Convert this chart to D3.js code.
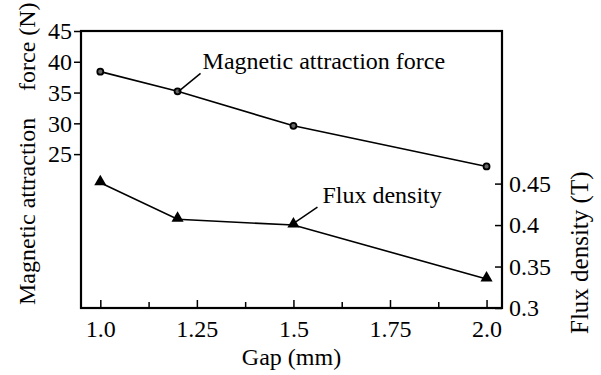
<!DOCTYPE html>
<html>
<head>
<meta charset="utf-8">
<script src="https://cdn.jsdelivr.net/npm/d3@7"></script>
<style>
  body { margin: 0; background: #fff; }
  text { font-family: "Liberation Serif", "Times New Roman", serif; fill: #000; }
</style>
</head>
<body>
<div id="chart"></div>
<script>
// Data
const gaps = [1.0, 1.2, 1.5, 2.0];
const forceValues = [38.4, 35.2, 29.6, 23.0];
const fluxValues = [0.451, 0.407, 0.400, 0.335];
const xTicks = [1.0, 1.25, 1.5, 1.75, 2.0];
const xTickLabels = ["1.0", "1.25", "1.5", "1.75", "2.0"];
const xMinorTicks = [1.125, 1.375, 1.625, 1.875];
const forceTicks = [25, 30, 35, 40, 45];
const fluxTicks = [0.3, 0.35, 0.4, 0.45];
const fluxTickLabels = ["0.3", "0.35", "0.4", "0.45"];

const W = 601, H = 375;
const margin = { top: 31, right: 99, bottom: 67, left: 81 };
const width = W - margin.left - margin.right;
const height = H - margin.top - margin.bottom;

const tickFont = "24px";
const labelFont = "24px";

const svg = d3.select("#chart").append("svg")
    .attr("width", W)
    .attr("height", H);

const g = svg.append("g")
    .attr("transform", "translate(" + margin.left + "," + margin.top + ")");

// scales - x goes a little past both ends of the data
const x = d3.scaleLinear().domain([0.95, 2.04]).range([0, width]);
const yForce = d3.scaleLinear().domain([0, 45]).range([height, 0]);
const yFlux = d3.scaleLinear().domain([0.3, 0.634]).range([height, 0]);

// axes
const xAxis = d3.axisBottom(x)
    .tickValues(xTicks)
    .tickFormat((d, i) => xTickLabels[i])
    .tickSizeInner(-8)
    .tickSizeOuter(0)
    .tickPadding(12);

const xAxisMinor = d3.axisBottom(x)
    .tickValues(xMinorTicks)
    .tickFormat("")
    .tickSizeInner(-6)
    .tickSizeOuter(0);

const yAxisLeft = d3.axisLeft(yForce)
    .tickValues(forceTicks)
    .tickSizeInner(7)
    .tickSizeOuter(0)
    .tickPadding(2);

const yAxisRight = d3.axisRight(yFlux)
    .tickValues(fluxTicks)
    .tickFormat((d, i) => fluxTickLabels[i])
    .tickSizeInner(-7)
    .tickSizeOuter(0)
    .tickPadding(7);

g.append("g").attr("class", "axis")
    .attr("transform", "translate(0," + height + ")")
    .call(xAxis);
g.append("g").attr("class", "axis")
    .attr("transform", "translate(0," + height + ")")
    .call(xAxisMinor);
g.append("g").attr("class", "axis")
    .call(yAxisLeft);
g.append("g").attr("class", "axis")
    .attr("transform", "translate(" + width + ",0)")
    .call(yAxisRight);

g.selectAll(".axis .domain").remove();
g.selectAll(".axis line").attr("stroke", "#000").attr("stroke-width", 1.5);
g.selectAll(".axis text")
    .style("font-family", "'Liberation Serif', serif")
    .style("font-size", tickFont)
    .attr("fill", "#000");

// frame
g.append("rect")
    .attr("x", 0).attr("y", 0)
    .attr("width", width).attr("height", height)
    .attr("fill", "none")
    .attr("stroke", "#000")
    .attr("stroke-width", 2.2);

// lines
const forceLine = d3.line()
    .x((d, i) => x(gaps[i]))
    .y(d => yForce(d));
const fluxLine = d3.line()
    .x((d, i) => x(gaps[i]))
    .y(d => yFlux(d));

g.append("path")
    .datum(forceValues)
    .attr("d", forceLine)
    .attr("fill", "none")
    .attr("stroke", "#000")
    .attr("stroke-width", 1.6);

g.append("path")
    .datum(fluxValues)
    .attr("d", fluxLine)
    .attr("fill", "none")
    .attr("stroke", "#000")
    .attr("stroke-width", 1.6);

// markers
g.selectAll(".force-dot")
    .data(forceValues)
    .enter().append("circle")
    .attr("class", "force-dot")
    .attr("cx", (d, i) => x(gaps[i]))
    .attr("cy", d => yForce(d))
    .attr("r", 3)
    .attr("fill", "#666")
    .attr("stroke", "#000")
    .attr("stroke-width", 1.8);

const tri = d3.symbol().type(d3.symbolTriangle).size(64);
g.selectAll(".flux-tri")
    .data(fluxValues)
    .enter().append("path")
    .attr("class", "flux-tri")
    .attr("d", tri)
    .attr("transform", (d, i) => "translate(" + x(gaps[i]) + "," + (yFlux(d) - 1) + ")")
    .attr("fill", "#000");

// series labels with leader lines
const forceLabelAt = 1;
const fx = x(gaps[forceLabelAt]), fy = yForce(forceValues[forceLabelAt]);
g.append("line")
    .attr("x1", fx + 1).attr("y1", fy)
    .attr("x2", fx + 23).attr("y2", fy - 18)
    .attr("stroke", "#000").attr("stroke-width", 1.5);
g.append("text")
    .attr("x", fx + 25)
    .attr("y", fy - 22)
    .style("font-size", labelFont)
    .text("Magnetic attraction force");

const fluxLabelAt = 2;
const bx = x(gaps[fluxLabelAt]), by = yFlux(fluxValues[fluxLabelAt]);
g.append("line")
    .attr("x1", bx + 2).attr("y1", by - 3)
    .attr("x2", bx + 24).attr("y2", by - 18)
    .attr("stroke", "#000").attr("stroke-width", 1.5);
g.append("text")
    .attr("x", bx + 29)
    .attr("y", by - 22)
    .style("font-size", labelFont)
    .text("Flux density");

// axis titles
svg.append("text")
    .attr("x", margin.left + width / 2)
    .attr("y", 365)
    .attr("text-anchor", "middle")
    .style("font-size", labelFont)
    .text("Gap (mm)");

svg.append("text")
    .attr("transform", "translate(35,305) rotate(-90)")
    .attr("text-anchor", "start")
    .style("font-size", labelFont)
    .text("Magnetic attraction");

svg.append("text")
    .attr("transform", "translate(35,91) rotate(-90)")
    .attr("text-anchor", "start")
    .style("font-size", labelFont)
    .text("force (N)");

svg.append("text")
    .attr("transform", "translate(588,334) rotate(-90)")
    .attr("text-anchor", "start")
    .style("font-size", "25px")
    .text("Flux density (T)");
</script>
</body>
</html>
